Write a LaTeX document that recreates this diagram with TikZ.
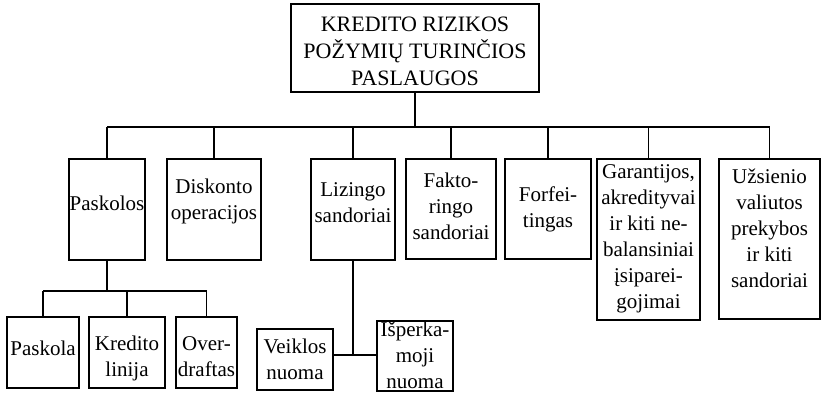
\documentclass[tikz,border=0pt]{standalone}
\usepackage{fontspec}
\setmainfont{Liberation Serif}
\begin{document}
\begin{tikzpicture}[x=1pt,y=-1pt,
  box/.style={draw,line width=1.3pt,inner sep=0pt},
  txt/.style={align=center,inner sep=0pt,font=\fontsize{21}{26}\selectfont},
  ttxt/.style={align=center,inner sep=0pt,font=\fontsize{22}{27}\selectfont},
  conn/.style={line width=1.3pt}]
\useasboundingbox (0,0) rectangle (821,392);
% boxes
\node[box,minimum width=248,minimum height=88] (top) at (415,48) {};
\node[box,minimum width=76,minimum height=101] (pask) at (107,209.5) {};
\node[box,minimum width=94,minimum height=101] (disk) at (214,209.5) {};
\node[box,minimum width=84,minimum height=101] (liz) at (353,209.5) {};
\node[box,minimum width=90,minimum height=100] (fakt) at (451,209) {};
\node[box,minimum width=86,minimum height=100] (forf) at (548,209) {};
\node[box,minimum width=103,minimum height=161] (gar) at (648.5,239.5) {};
\node[box,minimum width=101,minimum height=160] (uzs) at (769.5,239) {};
\node[box,minimum width=72,minimum height=71] (paskola) at (43,352.5) {};
\node[box,minimum width=76,minimum height=71] (kred) at (127,352.5) {};
\node[box,minimum width=61,minimum height=71] (over) at (206.5,352.5) {};
\node[box,minimum width=76,minimum height=61] (veik) at (295,359.5) {};
\node[box,minimum width=76,minimum height=70] (isp) at (415,356) {};
% texts
\node[ttxt] (top-t) at (415,51) {KREDITO RIZIKOS\\POŽYMIŲ TURINČIOS\\PASLAUGOS};
\node[txt] (pask-t) at (107,203) {Paskolos};
\node[txt] (disk-t) at (214,201) {Diskonto\\operacijos};
\node[txt] (liz-t) at (353,203) {Lizingo\\sandoriai};
\node[txt] (fakt-t) at (451,206.5) {Fakto-\\ringo\\sandoriai};
\node[txt] (forf-t) at (548,209) {Forfei-\\tingas};
\node[txt] (gar-t) at (648.5,238.5) {Garantijos,\\akredityvai\\ir kiti ne-\\balansiniai\\įsiparei-\\gojimai};
\node[txt] (uzs-t) at (769.5,228.5) {Užsienio\\valiutos\\prekybos\\ir kiti\\sandoriai};
\node[txt] (paskola-t) at (43,348) {Paskola};
\node[txt] (kred-t) at (127,358.5) {Kredito\\linija};
\node[txt] (over-t) at (206.5,356.5) {Over-\\draftas};
\node[txt] (veik-t) at (295,359) {Veiklos\\nuoma};
\node[txt] (isp-t) at (415,355.5) {Išperka-\\moji\\nuoma};
% connectors
\coordinate (bus) at (0,127);
\coordinate (sub) at (0,291);
\coordinate (lj) at (353,355);
\draw[conn] (top.south) -- (top.south |- bus);
\draw[conn] (pask.north |- bus) -- (uzs.north |- bus);
\foreach \n in {pask,disk,liz,fakt,forf,gar,uzs}
  \draw[conn] (\n.north |- bus) -- (\n.north);
\draw[conn] (pask.south) -- (pask.south |- sub);
\draw[conn] (paskola.north |- sub) -- (over.north |- sub);
\foreach \n in {paskola,kred,over}
  \draw[conn] (\n.north |- sub) -- (\n.north);
\draw[conn] (liz.south) -- (lj);
\draw[conn] (veik.east |- lj) -- (isp.west |- lj);
\end{tikzpicture}
\end{document}
